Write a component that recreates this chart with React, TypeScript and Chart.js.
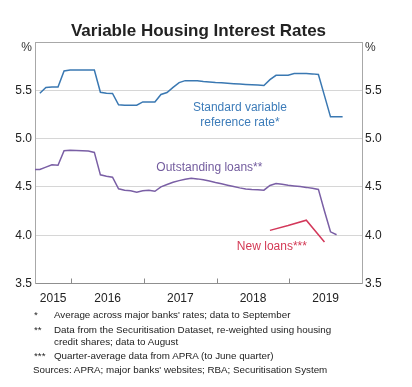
import React, { useEffect, useRef } from "react";
import { Chart, registerables } from "chart.js";

Chart.register(...registerables);

// ---------- data ----------
const TITLE = "Variable Housing Interest Rates";
const YEAR_LABELS = ["2015", "2016", "2017", "2018", "2019"];
const YEAR_BOUNDARIES = [2016, 2017, 2018, 2019];
const Y_TICKS = [3.5, 4.0, 4.5, 5.0, 5.5, 6.0];
const X_MIN = 2015.5;
const X_MAX = 2020.0;

// monthly labels Jun 2015 .. Sep 2019
const MONTHS: string[] = [];
for (let y = 2015, m = 6; y < 2019 || (y === 2019 && m <= 9); ) {
  MONTHS.push(`${y}-${String(m).padStart(2, "0")}`);
  m++;
  if (m > 12) { m = 1; y++; }
}

// Standard variable reference rate (Jul 2015 .. Sep 2019)
const svrValues = [
  null,
  5.47, 5.53, 5.535, 5.535, 5.70, 5.71, 5.71, 5.71, 5.71, 5.71,
  5.48, 5.47, 5.467, 5.35, 5.346, 5.346, 5.346, 5.38, 5.38, 5.38,
  5.457, 5.477, 5.53, 5.58, 5.60, 5.60, 5.60, 5.59, 5.585, 5.58,
  5.577, 5.572, 5.568, 5.564, 5.56, 5.557, 5.554, 5.55, 5.61, 5.655,
  5.657, 5.657, 5.674, 5.674, 5.674, 5.67, 5.664, 5.445, 5.225, 5.225,
  5.225,
];

// Outstanding loans (Jun 2015 .. Aug 2019)
const outstandingValues = [
  4.68, 4.68, 4.705, 4.73, 4.725, 4.875, 4.88, 4.878, 4.875, 4.872,
  4.857, 4.625, 4.61, 4.6, 4.48, 4.465, 4.46, 4.445, 4.46, 4.466,
  4.455, 4.50, 4.525, 4.548, 4.565, 4.58, 4.59, 4.583, 4.573, 4.562,
  4.545, 4.532, 4.518, 4.505, 4.49, 4.478, 4.472, 4.47, 4.466, 4.515,
  4.535, 4.527, 4.516, 4.51, 4.503, 4.495, 4.485, 4.474, 4.25, 4.035,
  4.005, null,
];

// New loans, quarterly
const NEW_QUARTERS = ["2018-09", "2018-12", "2019-03", "2019-06"];
const newLoanValues = [4.05, 4.10, 4.155, 3.93];

const FOOTNOTES = [
  { mark: "*", text: ["Average across major banks' rates; data to September"] },
  { mark: "**", text: ["Data from the Securitisation Dataset, re-weighted using housing", "credit shares; data to August"] },
  { mark: "***", text: ["Quarter-average data from APRA (to June quarter)"] },
];
const SOURCES = "Sources: APRA; major banks' websites; RBA; Securitisation System";

// ---------- styles ----------
const BLUE = "#3a78b2";
const PURPLE = "#7a5fa5";
const RED = "#d3385a";
const FONT = '"Liberation Sans", Arial, sans-serif';

const ANNOTATIONS = [
  { lines: ["Standard variable", "reference rate*"], x: 2018.32, y: 5.32, color: "#3d7cb9" },
  { lines: ["Outstanding loans**"], x: 2017.9, y: 4.694, color: "#735c9e" },
  { lines: ["New loans***"], x: 2018.76, y: 3.886, color: "#d33a55" },
];

const toT = (label: string) => {
  const [y, m] = label.split("-").map(Number);
  return y + (m - 0.2) / 12;
};

const series = (labels: string[], values: (number | null)[]) =>
  labels.map((l, i) => ({ x: toT(l), y: values[i] }));

const labelPositions = YEAR_LABELS.map((y) => {
  const yr = Number(y);
  const a = Math.max(yr, X_MIN);
  const b = Math.min(yr + 1, X_MAX);
  return (a + b) / 2;
});

const decor = {
  id: "decor",
  afterDraw(chart: any) {
    const { ctx, chartArea: a, scales } = chart;
    const xs = scales.x;
    const ys = scales.y;
    ctx.save();
    ctx.fillStyle = "#222";
    ctx.font = `bold 17px ${FONT}`;
    ctx.textAlign = "center";
    ctx.textBaseline = "middle";
    ctx.fillText(TITLE, (a.left + a.right) / 2, 31);

    ctx.font = `12px ${FONT}`;
    ctx.fillStyle = "#333";
    ctx.textAlign = "right";
    ctx.fillText("%", a.left - 3, a.top + 6);
    ctx.textAlign = "left";
    ctx.fillText("%", a.right + 3, a.top + 6);

    ctx.strokeStyle = "#8a8a8a";
    ctx.lineWidth = 1;
    for (const yr of YEAR_BOUNDARIES) {
      const px = Math.round(xs.getPixelForValue(yr)) + 0.5;
      ctx.beginPath();
      ctx.moveTo(px, a.bottom);
      ctx.lineTo(px, a.bottom - 5);
      ctx.stroke();
    }

    ctx.font = `12px ${FONT}`;
    ctx.textAlign = "center";
    for (const an of ANNOTATIONS) {
      ctx.fillStyle = an.color;
      const px = xs.getPixelForValue(an.x);
      const py = ys.getPixelForValue(an.y);
      an.lines.forEach((ln, i) => ctx.fillText(ln, px, py + i * 14.5));
    }
    ctx.restore();
  },
};

export default function App() {
  const ref = useRef<HTMLCanvasElement>(null);
  useEffect(() => {
    if (!ref.current) return;
    const tickFont = { family: FONT, size: 12 };
    const chart = new Chart(ref.current, {
      type: "line",
      data: {
        datasets: [
          { data: series(MONTHS, svrValues), borderColor: BLUE, borderWidth: 1.5, pointRadius: 0, tension: 0 },
          { data: series(MONTHS, outstandingValues), borderColor: PURPLE, borderWidth: 1.5, pointRadius: 0, tension: 0 },
          { data: series(NEW_QUARTERS, newLoanValues), borderColor: RED, borderWidth: 1.5, pointRadius: 0, tension: 0 },
        ],
      } as any,
      options: {
        responsive: false,
        animation: false,
        devicePixelRatio: 1,
        layout: { padding: { top: 42, left: 0, right: 0, bottom: 73.5 } },
        plugins: { legend: { display: false }, tooltip: { enabled: false }, title: { display: false } },
        scales: {
          x: {
            type: "linear",
            min: X_MIN,
            max: X_MAX,
            afterFit: (s: any) => { s.height = 30; },
            afterBuildTicks: (s: any) => { s.ticks = labelPositions.map((v) => ({ value: v })); },
            grid: { display: false, drawTicks: false },
            border: { display: true, color: "#8f8f8f", width: 1 },
            ticks: {
              autoSkip: false,
              maxRotation: 0,
              padding: 8,
              color: "#222",
              font: tickFont,
              callback: (_v: any, i: number) => YEAR_LABELS[i],
            },
          },
          y: {
            position: "left",
            min: 3.5,
            max: 6,
            afterFit: (s: any) => { s.width = 35; },
            afterBuildTicks: (s: any) => { s.ticks = Y_TICKS.map((v) => ({ value: v })); },
            grid: {
              drawTicks: false,
              color: (c: any) => (c.tick.value === 6 ? "#a8a8a8" : c.tick.value === 3.5 ? "rgba(0,0,0,0)" : "#d6d6d6"),
            },
            border: { display: true, color: "#a8a8a8" },
            ticks: { padding: 3, color: "#222", font: tickFont, callback: (v: any) => (v === 6 ? "" : Number(v).toFixed(1)) },
          },
          y2: {
            position: "right",
            min: 3.5,
            max: 6,
            afterFit: (s: any) => { s.width = 50; },
            afterBuildTicks: (s: any) => { s.ticks = Y_TICKS.map((v) => ({ value: v })); },
            grid: { display: false, drawTicks: false },
            border: { display: true, color: "#a8a8a8" },
            ticks: { padding: 3, color: "#222", font: tickFont, callback: (v: any) => (v === 6 ? "" : Number(v).toFixed(1)) },
          },
        },
      } as any,
      plugins: [decor],
    });
    return () => chart.destroy();
  }, []);

  const noteStyle: React.CSSProperties = {
    position: "absolute",
    left: 0,
    width: 412,
    fontFamily: FONT,
    fontSize: "9.8px",
    lineHeight: "11.7px",
    color: "#222",
  };
  const noteTops = [309, 324, 349.5];

  return (
    <div style={{ position: "absolute", left: 0, top: 0, width: 412, height: 387, background: "#fff" }}>
      <canvas ref={ref} width={412} height={387} style={{ display: "block" }} />
      {FOOTNOTES.map((f, i) => (
        <div key={i} style={{ ...noteStyle, top: noteTops[i] }}>
          <span style={{ position: "absolute", left: 34 }}>{f.mark}</span>
          <div style={{ position: "absolute", left: 54 }}>
            {f.text.map((t, j) => (
              <div key={j} style={{ whiteSpace: "nowrap" }}>{t}</div>
            ))}
          </div>
        </div>
      ))}
      <div style={{ ...noteStyle, top: 364, left: 33, whiteSpace: "nowrap" }}>{SOURCES}</div>
    </div>
  );
}
